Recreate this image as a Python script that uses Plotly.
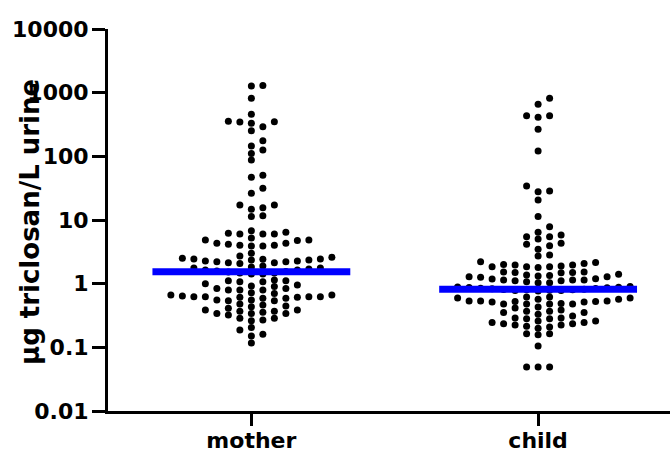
import numpy as np
import plotly.graph_objects as go

# ---- data ----
categories = ["mother", "child"]

mother_values = [
    1300, 1270, 815, 457, 355, 350, 345, 330, 292, 253, 176, 145, 126, 111, 87.5,
    50.3, 46.8, 31.5, 26.2, 17.2, 17.2, 15.6, 14.7, 11.7, 11.3,
    6.79, 6.41, 6.2, 6.03, 6.03, 6.03,
    5.2, 4.85, 4.85, 4.75, 4.32, 4.32, 4.15, 4.0, 3.9, 3.9, 4.0,
    3.0, 2.72, 2.6, 2.5, 2.44, 2.44, 2.42, 2.35, 2.35, 2.27, 2.27, 2.21, 2.21, 2.14, 2.14, 2.08,
    1.89, 1.83, 1.76, 1.70, 1.64, 1.58, 1.52, 1.47, 1.42, 1.42, 1.47, 1.55, 1.64, 1.76,
    1.14, 1.11, 1.11, 1.07, 1.07, 1.0, 0.953, 0.92, 0.9, 0.84, 0.84, 0.795, 0.795, 0.795,
    0.72, 0.70, 0.663, 0.663, 0.64, 0.625, 0.625, 0.625, 0.625, 0.61, 0.61, 0.59, 0.59,
    0.554, 0.554, 0.54, 0.54,
    0.479, 0.462, 0.446, 0.435, 0.41, 0.386, 0.386, 0.37, 0.37, 0.355, 0.34, 0.34, 0.34, 0.322,
    0.285, 0.285, 0.269, 0.262,
    0.205, 0.187, 0.16, 0.151, 0.117,
]

child_values = [
    815, 656, 434, 434, 410, 266, 121, 34.2, 28.5, 27.8, 20.6, 11.3, 7.85,
    6.41, 5.81, 5.47, 5.47, 5.03, 4.32, 4.15, 3.95, 3.46, 2.82, 2.72,
    2.21, 2.15, 2.08, 2.0, 1.96, 1.96, 1.89, 1.85, 1.85, 1.85, 1.80,
    1.52, 1.52, 1.50, 1.50, 1.48,
    1.40, 1.37, 1.34, 1.32, 1.29, 1.29, 1.26, 1.20, 1.18, 1.14, 1.14, 1.14, 1.11, 1.11,
    1.07, 1.03, 1.03,
    0.90, 0.89, 0.88, 0.87, 0.86, 0.85, 0.84, 0.83, 0.82, 0.81, 0.80, 0.80, 0.79, 0.78, 0.78, 0.77,
    0.617, 0.617, 0.595, 0.595, 0.568, 0.568, 0.534, 0.534, 0.534, 0.525, 0.525, 0.515, 0.515,
    0.49, 0.478, 0.478, 0.478, 0.478,
    0.43, 0.415, 0.386,
    0.37, 0.37, 0.353, 0.353, 0.33, 0.31, 0.289, 0.289, 0.28, 0.28, 0.26, 0.26, 0.245, 0.245,
    0.235, 0.235, 0.225, 0.225, 0.215, 0.208, 0.20, 0.164, 0.164, 0.158,
    0.105, 0.049, 0.049, 0.049,
]

medians = [1.54, 0.815]

y_tick_values = [0.01, 0.1, 1, 10, 100, 1000, 10000]
y_tick_labels = ["0.01", "0.1", "1", "10", "100", "1000", "10000"]
y_title = "µg triclosan/L urine"

# ---- layout geometry ----
W, H = 670, 452
ML, MR, MT, MB = 108, 0, 29, 41
XR = [-0.5, 1.46]
YR = [-2, 4]
px_per_x = (W - ML - MR) / (XR[1] - XR[0])
px_per_decade = (H - MT - MB) / (YR[1] - YR[0])


def column_swarm(vals, slot_px=11.5, min_gap_px=6.5):
    """Prism-like scatter: points sit in fixed columns; each point (in
    ascending order) takes the column closest to the centre that has no
    point within min_gap_px vertically."""
    ys = np.log10(np.asarray(vals, dtype=float)) * px_per_decade
    order = np.argsort(ys, kind="stable")
    cols = {}
    slots = np.zeros(len(ys))
    seq = [0]
    for k in range(1, 40):
        seq += [k, -k]
    for i in order:
        y = ys[i]
        for s in seq:
            if all(abs(y - yy) >= min_gap_px for yy in cols.get(s, [])):
                cols.setdefault(s, []).append(y)
                slots[i] = s
                break
    return slots * slot_px / px_per_x


fig = go.Figure()
for k, vals in enumerate([mother_values, child_values]):
    offs = column_swarm(vals)
    fig.add_trace(go.Scatter(
        x=k + offs, y=vals, mode="markers",
        marker=dict(size=7, color="black", line=dict(width=0)),
        showlegend=False, hoverinfo="y",
    ))

half = 0.345
for k, m in enumerate(medians):
    fig.add_trace(go.Scatter(
        x=[k - half, k + half], y=[m, m], mode="lines",
        line=dict(color="#0000FF", width=7),
        showlegend=False, hoverinfo="skip",
    ))

font_tick = dict(family="DejaVu Sans", size=22, color="black", weight="bold")

fig.update_layout(
    width=W, height=H,
    margin=dict(l=ML, r=MR, t=MT, b=MB, pad=0),
    paper_bgcolor="white", plot_bgcolor="white",
    xaxis=dict(
        range=XR, tickmode="array", tickvals=[0, 1], ticktext=categories,
        showgrid=False, zeroline=False, showline=True, linecolor="black", linewidth=3,
        ticks="outside", ticklen=12, tickwidth=3, tickcolor="black",
        tickfont=font_tick, ticklabelstandoff=-4, automargin=False,
    ),
    yaxis=dict(
        type="log", range=YR, tickmode="array", tickvals=y_tick_values, ticktext=y_tick_labels,
        showgrid=False, zeroline=False, showline=True, linecolor="black", linewidth=3,
        ticks="outside", ticklen=13, tickwidth=3, tickcolor="black",
        tickfont=font_tick, ticklabelstandoff=-1, automargin=False,
    ),
    annotations=[dict(
        text=y_title, textangle=-90, showarrow=False,
        xref="paper", yref="paper",
        x=(30 - ML) / (W - ML - MR), y=1 - (222 - MT) / (H - MT - MB),
        xanchor="center", yanchor="middle",
        font=dict(family="DejaVu Sans", size=26, color="black", weight="bold"),
    )],
)

fig.write_html(
    "out.html",
    config={"displayModeBar": False},
    post_script="document.body.style.margin='0';document.body.style.padding='0';",
)
